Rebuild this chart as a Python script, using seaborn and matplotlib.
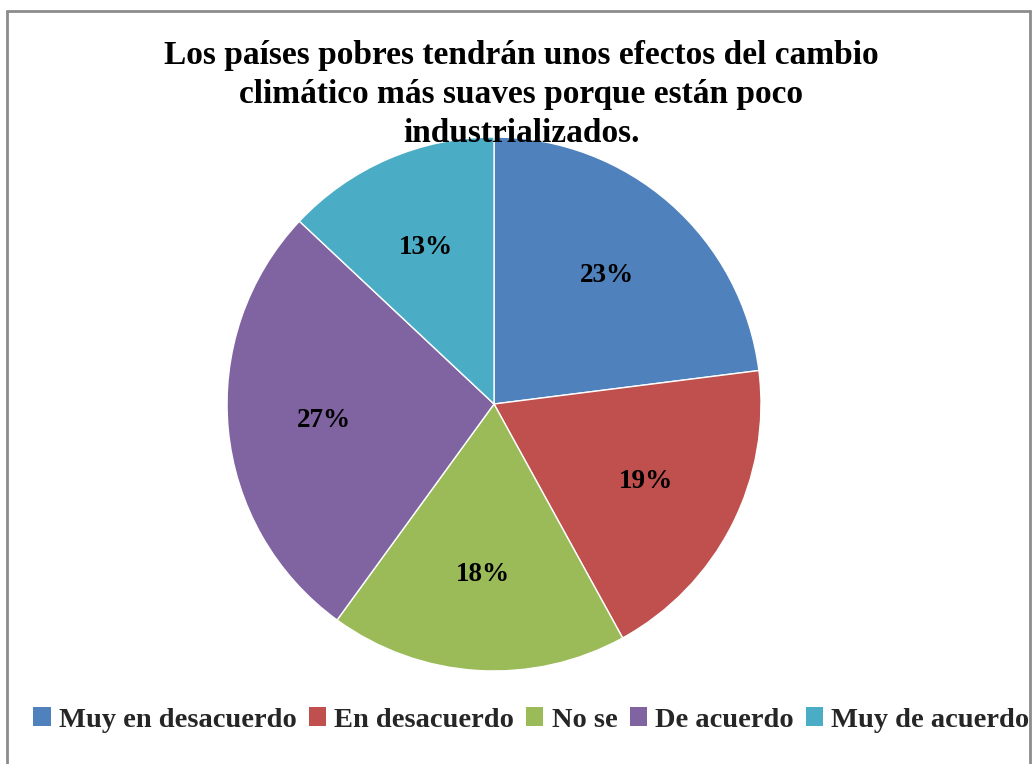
import matplotlib
matplotlib.use("Agg")
import matplotlib.pyplot as plt
from matplotlib.patches import Patch
from matplotlib.lines import Line2D
import seaborn as sns

# Chart data
categories = ["Muy en desacuerdo", "En desacuerdo", "No se", "De acuerdo", "Muy de acuerdo"]
values = [23, 19, 18, 27, 13]
colors = ["#4F81BD", "#C0504D", "#9BBB59", "#8064A2", "#4BACC6"]
title = ("Los países pobres tendrán unos efectos del cambio\n"
         "climático más suaves porque están poco\n"
         "industrializados.")

sns.set_style("white")
plt.rcParams["font.family"] = ["Liberation Serif", "DejaVu Serif"]
plt.rcParams["font.weight"] = "bold"

palette = sns.color_palette(colors)

fig = plt.figure(figsize=(10.32, 7.64), dpi=100)
ax = fig.add_axes([0.22, 0.1217, 0.5174, 0.699])

wedges, texts, autotexts = ax.pie(
    values,
    colors=palette,
    startangle=90,
    counterclock=False,
    autopct="%1.0f%%",
    pctdistance=0.64,
    radius=1,
    wedgeprops={"edgecolor": "white", "linewidth": 1},
    textprops={"fontsize": 19.5, "fontweight": "bold", "color": "black"},
)
ax.set_xlim(-1, 1)
ax.set_ylim(-1, 1)
ax.set_aspect("equal")
ax.axis("off")

# Title
fig.text(0.505, 1 - 40 / 764, title, ha="center", va="top", fontsize=24,
         fontweight="bold", color="black", linespacing=1.33, multialignment="center")

# Legend
handles = [Patch(facecolor=c, edgecolor="none") for c in palette]
fig.legend(handles, categories, loc="center", bbox_to_anchor=(0.515, 1 - 720 / 764),
           ncol=5, frameon=False, handlelength=0.6, handleheight=0.6,
           handletextpad=0.3, columnspacing=0.42, prop={"weight": "bold", "size": 20.5})

# Border of the chart area
bc = "#8C8C8C"
x0, x1, ytop = 7 / 1032, 1030 / 1032, 1 - 11 / 764
fig.add_artist(Line2D([x0, x1], [ytop, ytop], color=bc, lw=2, transform=fig.transFigure))
fig.add_artist(Line2D([x0, x0], [0, ytop], color=bc, lw=2, transform=fig.transFigure))
fig.add_artist(Line2D([x1, x1], [0, ytop], color=bc, lw=2, transform=fig.transFigure))

fig.savefig("out.png", dpi=100, facecolor="white")
